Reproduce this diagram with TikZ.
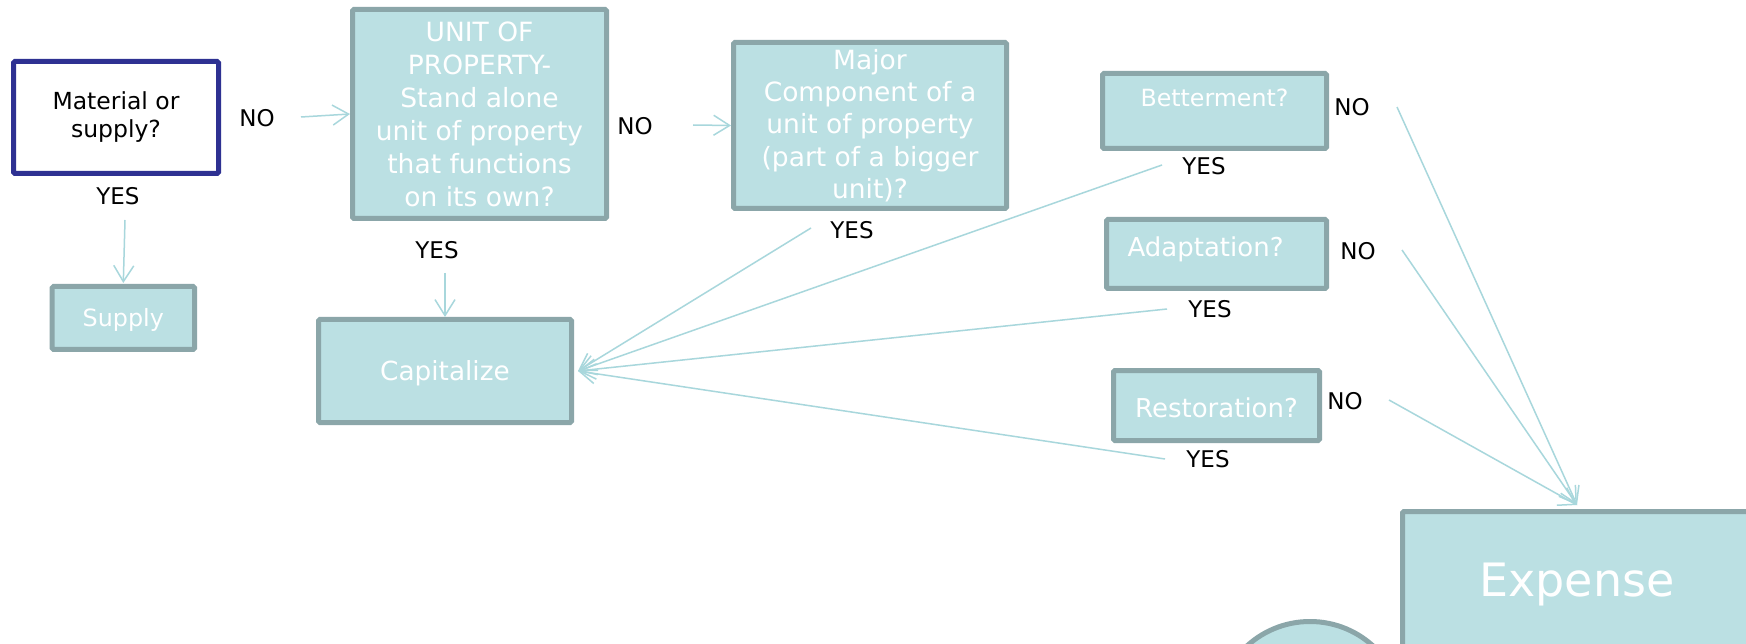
\documentclass[tikz,border=0pt]{standalone}
\usepackage{fontspec}
\setmainfont{DejaVu Sans}
\usetikzlibrary{arrows.meta}
\definecolor{boxfill}{HTML}{BBE0E3}
\definecolor{boxline}{HTML}{8BA6A9}
\definecolor{connc}{HTML}{A8D7DC}
\definecolor{navy}{HTML}{2E3192}
\begin{document}
\begin{tikzpicture}[x=1pt,y=-1pt,
  box/.style={draw=boxline, fill=boxfill, line width=5pt, text=white, align=center, inner sep=2pt, rounded corners=1.5pt},
  conn/.style={draw=connc, line width=1.5pt, -{Straight Barb[length=16pt,width=20pt]}},
  ans/.style={text=black, font=\fontsize{23}{28}\selectfont, inner sep=0pt}]
\useasboundingbox (0,0) rectangle (1746,644);
\fill[white] (0,0) rectangle (1746,644);
\clip (0,0) rectangle (1746,644);

% boxes
\node[box, draw=navy, fill=white, text=black, minimum width=205pt, minimum height=112pt, font=\fontsize{23.5}{28}\selectfont] (mat) at (116,117.5) {Material or\\supply?};
\node[box, minimum width=254pt, minimum height=209pt, font=\fontsize{26.5}{33}\selectfont] (unit) at (479.5,114) {UNIT OF\\PROPERTY-\\Stand alone\\unit of property\\that functions\\on its own?};
\node[box, minimum width=142.5pt, minimum height=63pt, font=\fontsize{23.8}{28}\selectfont, text height=17.3pt, text depth=0pt] (sup) at (123.3,318) {Supply};
\node[box, minimum width=253pt, minimum height=103pt, font=\fontsize{26.3}{32}\selectfont, text height=19.2pt, text depth=0pt] (cap) at (445,371) {Capitalize};
\node[box, minimum width=273pt, minimum height=166pt, font=\fontsize{26.5}{32.3}\selectfont] (maj) at (870,125.5) {Major\\Component of a\\unit of property\\(part of a bigger\\unit)?};
\node[box, minimum width=224pt, minimum height=75pt, font=\fontsize{23.7}{28}\selectfont, text height=17.3pt, text depth=26pt] (bet) at (1214.5,111) {Betterment?};
\node[box, minimum width=220pt, minimum height=69pt, font=\fontsize{26}{30}\selectfont, text height=19pt, text depth=14pt] (ada) at (1216.5,254) {Adaptation?\hspace*{22pt}};
\node[box, minimum width=206pt, minimum height=70pt, font=\fontsize{26}{30}\selectfont, text height=24pt, text depth=0pt] (res) at (1216.5,405.5) {Restoration?};
\node[box, minimum width=349pt, minimum height=137pt, font=\fontsize{46}{50}\selectfont, text height=33.5pt, text depth=0pt] (exp) at (1577,580) {Expense};
\node[circle, draw=boxline, fill=boxfill, line width=5pt, minimum size=187pt, inner sep=0pt] (circ) at (1310,715) {};

% labels
\node[ans] (no1) at (257,118) {NO};
\node[ans] (yes1) at (118,196) {YES};
\node[ans] (no2) at (635,126) {NO};
\node[ans] (yes2) at (437,250) {YES};
\node[ans] (yes3) at (852,230) {YES};
\node[ans] (nobet) at (1352,107) {NO};
\node[ans] (yesbet) at (1204,166) {YES};
\node[ans] (noada) at (1358,251) {NO};
\node[ans] (yesada) at (1210,309) {YES};
\node[ans] (nores) at (1345,401) {NO};
\node[ans] (yesres) at (1208,459) {YES};

% connector start points
\coordinate (s1) at (125,220);
\coordinate (s2) at (301,117);
\coordinate (s3) at (445,273);
\coordinate (s4) at (693,125);
\coordinate (s5) at (811,228);
\coordinate (s6) at (1162,165);
\coordinate (s7) at (1167,309);
\coordinate (s8) at (1165,459);
\coordinate (s9) at (1397,107);
\coordinate (s10) at (1402,250);
\coordinate (s11) at (1389,400);

% connectors
\draw[conn] (s1) -- ([yshift=1pt]sup.north);
\draw[conn] (s2) -- (unit.west);
\draw[conn] (s3) -- (cap.north);
\draw[conn] (s4) -- (maj.west);
\draw[conn] (s5) -- ([xshift=4pt]cap.east);
\draw[conn] (s6) -- ([xshift=4pt]cap.east);
\draw[conn] (s7) -- ([xshift=4pt]cap.east);
\draw[conn] (s8) -- ([xshift=4pt]cap.east);
\draw[conn] (s9) -- ([yshift=4pt]exp.north);
\draw[conn] (s10) -- ([yshift=4pt]exp.north);
\draw[conn] (s11) -- ([yshift=4pt]exp.north);
\end{tikzpicture}
\end{document}
